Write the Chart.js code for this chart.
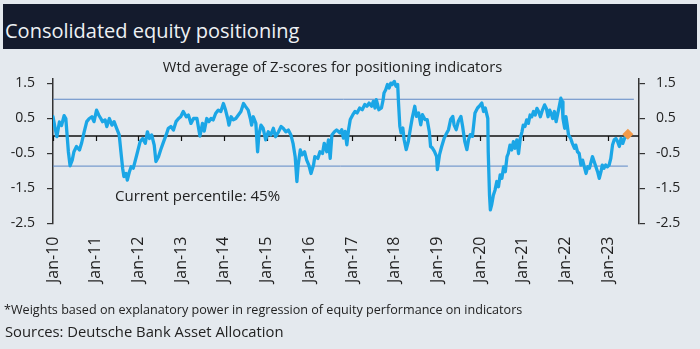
<!DOCTYPE html>
<html>
<head>
<meta charset="utf-8">
<script src="https://cdn.jsdelivr.net/npm/chart.js@4"></script>
<style>
  html, body { margin: 0; padding: 0; }
  body { width: 700px; height: 349px; background: #e4e9ee; position: relative; overflow: hidden;
         font-family: "Open Sans", "Noto Sans", sans-serif; color: #222; }
  #chart { position: absolute; left: 0; top: 0; }
  .txt { position: absolute; line-height: 1; white-space: nowrap; }
  #bar { position: absolute; left: 3px; top: 4px; width: 694px; height: 45px; background: #141b2d; }
  #title { left: 5px; top: 20.5px; font-size: 20px; color: #eef1f4; }
  #subtitle { left: 332.5px; top: 58.9px; font-size: 14.7px; transform: translateX(-50%); }
  #pct { left: 115px; top: 188.4px; font-size: 15px; }
  #note { left: 4px; top: 304px; font-size: 12.6px; }
  #src { left: 5px; top: 324.2px; font-size: 14.8px; }
</style>
</head>
<body>
<div id="bar"></div>
<div class="txt" id="title">Consolidated equity positioning</div>
<canvas id="chart" width="700" height="349"></canvas>
<div class="txt" id="subtitle">Wtd average of Z-scores for positioning indicators</div>
<div class="txt" id="pct">Current percentile: 45%</div>
<div class="txt" id="note">*Weights based on explanatory power in regression of equity performance on indicators</div>
<div class="txt" id="src">Sources: Deutsche Bank Asset Allocation</div>
<script>
// Observation dates (decimal years) and weighted-average z-scores
const dates = [
  2010.00,2010.05,2010.09,2010.15,2010.20,2010.26,2010.30,2010.36,2010.40,2010.45,2010.49,2010.55,2010.62,2010.67,2010.73,2010.79,2010.85,2010.91,2010.96,
  2011.02,2011.07,2011.12,2011.16,2011.22,2011.26,2011.32,2011.38,2011.43,2011.49,2011.55,2011.59,2011.63,2011.66,2011.71,2011.74,2011.79,2011.83,2011.88,2011.92,2011.98,
  2012.04,2012.10,2012.16,2012.21,2012.26,2012.31,2012.37,2012.41,2012.47,2012.52,2012.59,2012.65,2012.70,2012.76,2012.82,2012.88,2012.94,2012.99,
  2013.05,2013.12,2013.17,2013.23,2013.29,2013.37,2013.44,2013.50,2013.54,2013.60,2013.65,2013.70,2013.75,2013.81,2013.87,2013.93,2013.99,
  2014.04,2014.09,2014.12,2014.17,2014.22,2014.28,2014.34,2014.40,2014.46,2014.51,2014.57,2014.62,2014.65,2014.69,2014.75,2014.79,2014.82,2014.87,2014.92,2014.98,
  2015.04,2015.10,2015.16,2015.21,2015.28,2015.34,2015.39,2015.45,2015.51,2015.57,2015.62,2015.67,2015.71,2015.74,2015.79,2015.83,2015.89,2015.94,2015.99,
  2016.04,2016.10,2016.13,2016.20,2016.25,2016.31,2016.35,2016.41,2016.45,2016.49,2016.53,2016.59,2016.64,2016.72,2016.76,2016.80,2016.84,2016.88,2016.92,2016.96,
  2017.02,2017.07,2017.12,2017.18,2017.24,2017.30,2017.35,2017.40,2017.46,2017.50,2017.54,2017.57,2017.63,2017.69,2017.73,2017.75,2017.79,2017.83,2017.87,2017.91,2017.94,2017.99,
  2018.03,2018.07,2018.09,2018.12,2018.15,2018.19,2018.22,2018.27,2018.32,2018.37,2018.41,2018.47,2018.51,2018.56,2018.61,2018.65,2018.71,2018.76,2018.81,2018.84,2018.88,2018.93,2018.98,
  2019.00,2019.05,2019.10,2019.16,2019.20,2019.26,2019.31,2019.36,2019.39,2019.44,2019.49,2019.55,2019.59,2019.64,2019.69,2019.73,2019.77,2019.82,2019.88,2019.94,2019.98,
  2020.04,2020.08,2020.12,2020.16,2020.18,2020.19,2020.22,2020.24,2020.27,2020.31,2020.35,2020.39,2020.43,2020.47,2020.51,2020.55,2020.59,2020.63,2020.66,2020.70,2020.74,2020.78,2020.82,2020.86,2020.90,2020.94,2020.98,
  2021.01,2021.05,2021.09,2021.13,2021.17,2021.21,2021.25,2021.29,2021.33,2021.37,2021.41,2021.46,2021.51,2021.55,2021.59,2021.63,2021.66,2021.70,2021.74,2021.78,2021.82,2021.86,2021.89,2021.92,2021.94,2021.98,
  2022.01,2022.04,2022.07,2022.12,2022.16,2022.21,2022.24,2022.28,2022.32,2022.36,2022.40,2022.44,2022.48,2022.52,2022.56,2022.60,2022.63,2022.67,2022.71,2022.75,2022.79,2022.83,2022.86,2022.90,2022.94,2022.98,
  2023.02,2023.06,2023.10,2023.14,2023.18,2023.22,2023.26,2023.30,2023.34,2023.38,2023.42,2023.46
];
const scores = [
  0.55,0.22,-0.02,0.40,0.30,0.58,0.50,-0.45,-0.85,-0.69,-0.45,-0.30,-0.40,-0.20,0.12,0.41,0.50,0.55,0.41,
  0.74,0.60,0.50,0.41,0.46,0.27,0.50,0.31,0.41,0.22,0.03,-0.45,-0.92,-1.16,-1.07,-1.26,-1.02,-0.88,-0.92,-0.73,-0.45,
  -0.16,-0.07,-0.21,0.12,-0.07,0.03,-0.26,-0.73,-0.59,-0.40,-0.16,0.03,0.22,0.27,0.17,0.41,0.50,0.55,
  0.70,0.55,0.60,0.36,0.50,0.50,0.00,0.36,0.14,0.50,0.41,0.50,0.46,0.65,0.74,0.70,0.93,
  0.74,0.50,0.31,0.55,0.46,0.50,0.60,0.70,0.93,0.84,0.74,0.50,0.31,0.55,0.36,-0.45,0.03,0.31,0.22,-0.11,
  0.12,0.03,0.22,-0.02,0.12,0.27,0.22,0.12,0.17,0.03,-0.21,-0.59,-1.30,-0.83,-0.40,-0.54,-0.45,-0.69,-0.83,
  -1.07,-0.83,-0.59,-0.64,-0.45,-0.50,-0.21,-0.45,-0.11,-0.64,0.03,0.12,0.17,0.09,0.18,-0.06,0.13,-0.25,0.18,0.47,
  0.61,0.70,0.66,0.80,0.75,0.90,0.85,0.94,0.85,0.99,0.80,1.04,0.75,0.80,1.04,1.23,1.32,1.47,1.37,1.51,1.47,1.56,
  1.42,1.47,0.94,0.28,0.09,0.23,-0.10,-0.39,-0.15,0.23,0.51,0.85,0.56,0.66,0.32,0.61,0.47,0.47,0.13,-0.30,-0.34,-0.44,-0.58,
  -0.96,-0.53,-0.30,-0.06,0.04,0.18,0.47,0.56,0.32,0.18,0.42,0.56,0.28,-0.15,-0.39,-0.10,0.04,-0.01,0.66,0.80,0.85,
  0.94,0.70,0.80,0.60,0.50,-0.45,-1.69,-2.11,-1.97,-1.69,-1.54,-1.30,-1.45,-1.11,-1.21,-0.88,-1.02,-0.59,-0.50,-0.26,-0.40,-0.16,-0.35,-0.11,-0.50,-0.07,0.12,
  0.31,0.27,0.46,0.36,0.60,0.55,0.70,0.60,0.79,0.70,0.55,0.74,0.89,0.79,0.55,0.74,0.65,0.50,0.70,0.41,0.65,0.89,1.08,0.98,0.50,0.22,
  0.55,0.31,0.03,-0.07,-0.21,-0.35,-0.26,-0.45,-0.50,-0.83,-0.69,-0.88,-1.07,-0.88,-0.92,-0.73,-0.59,-0.73,-0.88,-1.02,-1.21,-1.02,-0.83,-0.92,-0.83,-0.88,
  -0.83,-0.64,-0.26,-0.11,-0.07,-0.16,-0.30,-0.07,-0.21,-0.07,-0.02,0.05
];
// Band thresholds and axis ticks
const upperBand = 1.05;
const lowerBand = -0.86;
const yTicks = [-2.5, -1.5, -0.5, 0.5, 1.5];
const yearTicks = [2010,2011,2012,2013,2014,2015,2016,2017,2018,2019,2020,2021,2022,2023];
const yearLabels = ['Jan-10','Jan-11','Jan-12','Jan-13','Jan-14','Jan-15','Jan-16','Jan-17','Jan-18','Jan-19','Jan-20','Jan-21','Jan-22','Jan-23'];

const series = dates.map((d, i) => ({ x: d, y: scores[i] }));
const lastPoint = series[series.length - 1];
const X_MIN = 2010, X_MAX = 2023.72;

// Zero line with small year tick marks hanging below it
const zeroLine = {
  id: 'zeroLine',
  beforeDatasetsDraw(chart) {
    const { ctx, chartArea, scales } = chart;
    const y0 = scales.y.getPixelForValue(0);
    ctx.save();
    ctx.strokeStyle = '#111';
    ctx.lineWidth = 1.6;
    ctx.beginPath();
    ctx.moveTo(chartArea.left, y0);
    ctx.lineTo(chartArea.right, y0);
    ctx.stroke();
    ctx.lineWidth = 1.2;
    yearTicks.forEach(t => {
      const x = Math.round(scales.x.getPixelForValue(t)) + 0.5;
      ctx.beginPath();
      ctx.moveTo(x, y0);
      ctx.lineTo(x, y0 + 5);
      ctx.stroke();
    });
    ctx.restore();
  }
};

const tickFont = { family: '"Open Sans", "Noto Sans", sans-serif', size: 14 };
const yAxis = (side, width, pad) => ({
  type: 'linear',
  position: side,
  min: -2.5,
  max: 1.64,
  afterBuildTicks: s => { s.ticks = yTicks.map(v => ({ value: v })); },
  afterFit: s => { s.width = width; },
  ticks: { color: '#222', font: tickFont, padding: pad, callback: v => v.toFixed(1) },
  grid: { display: true, drawOnChartArea: false, drawTicks: true, tickLength: 6, color: '#333', lineWidth: 1.2 },
  border: { display: true, color: '#333', width: 1.5 }
});

new Chart(document.getElementById('chart'), {
  type: 'line',
  data: {
    datasets: [
      { data: [lastPoint], order: 0, showLine: false, pointStyle: 'rectRot', pointRadius: 5.5,
        backgroundColor: '#f29a4a', borderColor: '#f29a4a', borderWidth: 0 },
      { data: series, order: 1, borderColor: '#1ba6e6', borderWidth: 3.3, pointRadius: 0, tension: 0,
        borderJoinStyle: 'round', borderCapStyle: 'round' },
      { data: [{ x: X_MIN, y: upperBand }, { x: 2023.6, y: upperBand }], order: 2,
        borderColor: '#5d88c6', borderWidth: 1, pointRadius: 0 },
      { data: [{ x: X_MIN, y: lowerBand }, { x: lastPoint.x, y: lowerBand }], order: 3,
        borderColor: '#5d88c6', borderWidth: 1, pointRadius: 0 }
    ]
  },
  options: {
    responsive: false,
    animation: false,
    layout: { padding: { top: 78.6, left: 0, right: 0, bottom: 0 } },
    plugins: { legend: { display: false }, tooltip: { enabled: false }, title: { display: false } },
    scales: {
      x: {
        type: 'linear',
        position: 'bottom',
        min: X_MIN,
        max: X_MAX,
        afterBuildTicks: s => { s.ticks = yearTicks.map(v => ({ value: v })); },
        afterFit: s => { s.height = 125.5; },
        ticks: {
          autoSkip: false, minRotation: 90, maxRotation: 90, padding: 13, color: '#222',
          font: { family: '"Open Sans", "Noto Sans", sans-serif', size: 16 },
          callback: v => yearLabels[yearTicks.indexOf(v)]
        },
        grid: { display: false, drawTicks: false },
        border: { display: false }
      },
      y: yAxis('left', 53, 12),
      y2: yAxis('right', 61, 11)
    }
  },
  plugins: [zeroLine]
});
</script>
</body>
</html>
